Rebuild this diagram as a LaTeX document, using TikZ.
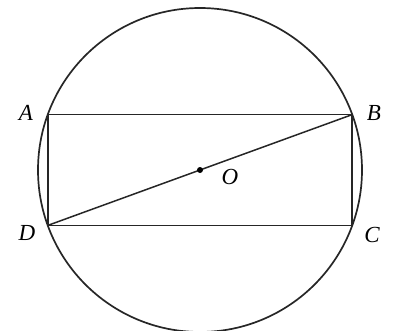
\documentclass[tikz,border=0pt]{standalone}
\usepackage{fontspec}
\setmainfont{Liberation Serif}
\usetikzlibrary{calc}
\tikzset{
  ptlabel/.style={font=\fontsize{23}{24}\selectfont\itshape,inner sep=0pt},
  figline/.style={line width=1.7pt,black!85}
}

\begin{document}
\begin{tikzpicture}[x=1pt,y=1pt]
  \useasboundingbox (0,0) rectangle (393,330);
  \coordinate (O) at (200,160);
  \coordinate (A) at ($(O)+(160:162)$);
  \coordinate (B) at ($(O)+(20:162)$);
  \coordinate (C) at ($(O)+(-20:162)$);
  \coordinate (D) at ($(O)+(200:162)$);

  \draw[figline] (O) circle (162);
  \draw[figline,line width=1.5pt] (A) -- (B) -- (C) -- (D) -- cycle;
  \draw[figline,line width=1.5pt] (D) -- (B);
  \fill (O) circle (3);

  \node[ptlabel] (lA) at (26,217) {A};
  \node[ptlabel] (lB) at (374,217) {B};
  \node[ptlabel] (lC) at (372,95) {C};
  \node[ptlabel] (lD) at (27,97) {D};
  \node[ptlabel] (lO) at (230,153) {O};
\end{tikzpicture}
\end{document}
